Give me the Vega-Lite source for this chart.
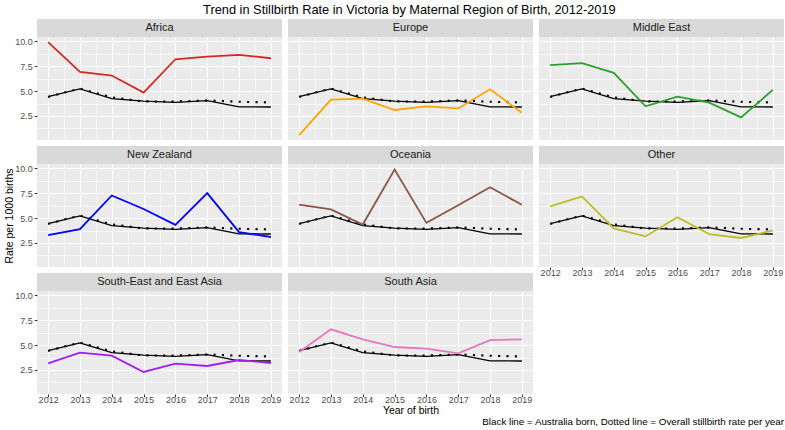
{
  "$schema": "https://vega.github.io/schema/vega-lite/v6.json",
  "background": "white",
  "padding": {"left": 4, "top": 4, "right": 2, "bottom": 1},
  "title": {
    "text": "Black line = Australia born, Dotted line = Overall stillbirth rate per year",
    "orient": "bottom",
    "anchor": "end",
    "frame": "bounds",
    "font": "Liberation Sans",
    "fontSize": 9.8,
    "fontWeight": "normal",
    "color": "black",
    "offset": 1.5
  },
  "datasets": {
    "national": [
      {"year": 2012, "series": "Australia born", "rate": 4.44},
      {"year": 2013, "series": "Australia born", "rate": 5.22},
      {"year": 2014, "series": "Australia born", "rate": 4.25},
      {"year": 2015, "series": "Australia born", "rate": 4.0},
      {"year": 2016, "series": "Australia born", "rate": 3.87},
      {"year": 2017, "series": "Australia born", "rate": 4.04},
      {"year": 2018, "series": "Australia born", "rate": 3.42},
      {"year": 2019, "series": "Australia born", "rate": 3.4},
      {"year": 2012, "series": "Overall", "rate": 4.42},
      {"year": 2013, "series": "Overall", "rate": 5.27},
      {"year": 2014, "series": "Overall", "rate": 4.36},
      {"year": 2015, "series": "Overall", "rate": 3.97},
      {"year": 2016, "series": "Overall", "rate": 3.95},
      {"year": 2017, "series": "Overall", "rate": 4.07},
      {"year": 2018, "series": "Overall", "rate": 3.93},
      {"year": 2019, "series": "Overall", "rate": 3.86}
    ],
    "regional": [
      {"region": "Africa", "year": 2012, "rate": 9.93},
      {"region": "Africa", "year": 2013, "rate": 6.94},
      {"region": "Africa", "year": 2014, "rate": 6.57},
      {"region": "Africa", "year": 2015, "rate": 4.85},
      {"region": "Africa", "year": 2016, "rate": 8.21},
      {"region": "Africa", "year": 2017, "rate": 8.48},
      {"region": "Africa", "year": 2018, "rate": 8.65},
      {"region": "Africa", "year": 2019, "rate": 8.31},
      {"region": "Europe", "year": 2012, "rate": 0.57},
      {"region": "Europe", "year": 2013, "rate": 4.14},
      {"region": "Europe", "year": 2014, "rate": 4.24},
      {"region": "Europe", "year": 2015, "rate": 3.1},
      {"region": "Europe", "year": 2016, "rate": 3.47},
      {"region": "Europe", "year": 2017, "rate": 3.26},
      {"region": "Europe", "year": 2018, "rate": 5.18},
      {"region": "Europe", "year": 2019, "rate": 2.83},
      {"region": "Middle East", "year": 2012, "rate": 7.61},
      {"region": "Middle East", "year": 2013, "rate": 7.81},
      {"region": "Middle East", "year": 2014, "rate": 6.84},
      {"region": "Middle East", "year": 2015, "rate": 3.47},
      {"region": "Middle East", "year": 2016, "rate": 4.44},
      {"region": "Middle East", "year": 2017, "rate": 3.84},
      {"region": "Middle East", "year": 2018, "rate": 2.36},
      {"region": "Middle East", "year": 2019, "rate": 5.12},
      {"region": "New Zealand", "year": 2012, "rate": 3.3},
      {"region": "New Zealand", "year": 2013, "rate": 3.89},
      {"region": "New Zealand", "year": 2014, "rate": 7.28},
      {"region": "New Zealand", "year": 2015, "rate": 5.92},
      {"region": "New Zealand", "year": 2016, "rate": 4.32},
      {"region": "New Zealand", "year": 2017, "rate": 7.51},
      {"region": "New Zealand", "year": 2018, "rate": 3.59},
      {"region": "New Zealand", "year": 2019, "rate": 3.1},
      {"region": "Oceania", "year": 2012, "rate": 6.35},
      {"region": "Oceania", "year": 2013, "rate": 5.88},
      {"region": "Oceania", "year": 2014, "rate": 4.36},
      {"region": "Oceania", "year": 2015, "rate": 9.9},
      {"region": "Oceania", "year": 2016, "rate": 4.52},
      {"region": "Oceania", "year": 2017, "rate": 6.3},
      {"region": "Oceania", "year": 2018, "rate": 8.11},
      {"region": "Oceania", "year": 2019, "rate": 6.35},
      {"region": "Other", "year": 2012, "rate": 6.18},
      {"region": "Other", "year": 2013, "rate": 7.18},
      {"region": "Other", "year": 2014, "rate": 3.96},
      {"region": "Other", "year": 2015, "rate": 3.16},
      {"region": "Other", "year": 2016, "rate": 5.09},
      {"region": "Other", "year": 2017, "rate": 3.4},
      {"region": "Other", "year": 2018, "rate": 3.0},
      {"region": "Other", "year": 2019, "rate": 3.76},
      {"region": "South-East and East Asia", "year": 2012, "rate": 3.17},
      {"region": "South-East and East Asia", "year": 2013, "rate": 4.24},
      {"region": "South-East and East Asia", "year": 2014, "rate": 3.94},
      {"region": "South-East and East Asia", "year": 2015, "rate": 2.3},
      {"region": "South-East and East Asia", "year": 2016, "rate": 3.14},
      {"region": "South-East and East Asia", "year": 2017, "rate": 2.9},
      {"region": "South-East and East Asia", "year": 2018, "rate": 3.5},
      {"region": "South-East and East Asia", "year": 2019, "rate": 3.2},
      {"region": "South Asia", "year": 2012, "rate": 4.31},
      {"region": "South Asia", "year": 2013, "rate": 6.59},
      {"region": "South Asia", "year": 2014, "rate": 5.58},
      {"region": "South Asia", "year": 2015, "rate": 4.81},
      {"region": "South Asia", "year": 2016, "rate": 4.64},
      {"region": "South Asia", "year": 2017, "rate": 4.17},
      {"region": "South Asia", "year": 2018, "rate": 5.51},
      {"region": "South Asia", "year": 2019, "rate": 5.58}
    ]
  },
  "vconcat": [
    {
      "title": {
        "text": "Trend in Stillbirth Rate in Victoria by Maternal Region of Birth, 2012-2019",
        "anchor": "middle",
        "frame": "bounds",
        "dx": 15,
        "font": "Liberation Sans",
        "fontSize": 12.8,
        "fontWeight": "normal",
        "color": "black",
        "offset": 2
      },
      "spacing": 6,
      "hconcat": [
        {
          "spacing": 6,
          "vconcat": [
            {
              "spacing": 0,
              "vconcat": [
                {"width": 245, "height": 18, "view": {"fill": "#d9d9d9", "stroke": null},
                 "data": {"name": "regional"},
                 "transform": [{"filter": "datum.region === 'Africa' && datum.year === 2012"}],
                 "mark": {"type": "text", "font": "Liberation Sans", "fontSize": 11, "color": "#1a1a1a", "baseline": "middle", "align": "center"},
                 "encoding": {"text": {"field": "region"}}},
                {"width": 245, "height": 103,
                 "encoding": {
                   "x": {"field": "year", "type": "quantitative", "scale": {"domain": [2011.65, 2019.35], "nice": false, "zero": false},
                         "axis": {"values": [2012, 2012.5, 2013, 2013.5, 2014, 2014.5, 2015, 2015.5, 2016, 2016.5, 2017, 2017.5, 2018, 2018.5, 2019], "labels": false, "ticks": false, "title": null,
                                  "gridWidth": {"condition": {"test": "datum.value % 1 !== 0", "value": 0.55}, "value": 1.1}}},
                   "y": {"field": "rate", "type": "quantitative", "scale": {"domain": [0.08, 10.45], "nice": false, "zero": false},
                         "axis": {"values": [1.25, 2.5, 3.75, 5, 6.25, 7.5, 8.75, 10], "format": ".1f", "title": null,
                                  "labelExpr": "datum.value % 2.5 === 0 ? datum.label : ''",
                                  "tickOpacity": {"condition": {"test": "datum.value % 2.5 !== 0", "value": 0}, "value": 1},
                                  "gridWidth": {"condition": {"test": "datum.value % 2.5 !== 0", "value": 0.55}, "value": 1.1}}}
                 },
                 "layer": [
                   {"data": {"name": "national"}, "transform": [{"filter": "datum.series === 'Australia born'"}], "mark": {"type": "line", "color": "black", "strokeWidth": 1.3}},
                   {"data": {"name": "national"}, "transform": [{"filter": "datum.series === 'Overall'"}], "mark": {"type": "line", "color": "black", "strokeWidth": 2.1, "strokeDash": [2.1, 6.3]}},
                   {"data": {"name": "regional"}, "transform": [{"filter": "datum.region === 'Africa'"}], "mark": {"type": "line", "color": "#d62728", "strokeWidth": 1.8}}
                 ]}
              ]
            },
            {
              "spacing": 0,
              "vconcat": [
                {"width": 245, "height": 18, "view": {"fill": "#d9d9d9", "stroke": null},
                 "data": {"name": "regional"},
                 "transform": [{"filter": "datum.region === 'New Zealand' && datum.year === 2012"}],
                 "mark": {"type": "text", "font": "Liberation Sans", "fontSize": 11, "color": "#1a1a1a", "baseline": "middle", "align": "center"},
                 "encoding": {"text": {"field": "region"}}},
                {"width": 245, "height": 103,
                 "encoding": {
                   "x": {"field": "year", "type": "quantitative", "scale": {"domain": [2011.65, 2019.35], "nice": false, "zero": false},
                         "axis": {"values": [2012, 2012.5, 2013, 2013.5, 2014, 2014.5, 2015, 2015.5, 2016, 2016.5, 2017, 2017.5, 2018, 2018.5, 2019], "labels": false, "ticks": false, "title": null,
                                  "gridWidth": {"condition": {"test": "datum.value % 1 !== 0", "value": 0.55}, "value": 1.1}}},
                   "y": {"field": "rate", "type": "quantitative", "scale": {"domain": [0.08, 10.45], "nice": false, "zero": false},
                         "axis": {"values": [1.25, 2.5, 3.75, 5, 6.25, 7.5, 8.75, 10], "format": ".1f", "title": "Rate per 1000 births",
                                  "labelExpr": "datum.value % 2.5 === 0 ? datum.label : ''",
                                  "tickOpacity": {"condition": {"test": "datum.value % 2.5 !== 0", "value": 0}, "value": 1},
                                  "gridWidth": {"condition": {"test": "datum.value % 2.5 !== 0", "value": 0.55}, "value": 1.1}}}
                 },
                 "layer": [
                   {"data": {"name": "national"}, "transform": [{"filter": "datum.series === 'Australia born'"}], "mark": {"type": "line", "color": "black", "strokeWidth": 1.3}},
                   {"data": {"name": "national"}, "transform": [{"filter": "datum.series === 'Overall'"}], "mark": {"type": "line", "color": "black", "strokeWidth": 2.1, "strokeDash": [2.1, 6.3]}},
                   {"data": {"name": "regional"}, "transform": [{"filter": "datum.region === 'New Zealand'"}], "mark": {"type": "line", "color": "#0000ff", "strokeWidth": 1.8}}
                 ]}
              ]
            },
            {
              "spacing": 0,
              "vconcat": [
                {"width": 245, "height": 18, "view": {"fill": "#d9d9d9", "stroke": null},
                 "data": {"name": "regional"},
                 "transform": [{"filter": "datum.region === 'South-East and East Asia' && datum.year === 2012"}],
                 "mark": {"type": "text", "font": "Liberation Sans", "fontSize": 11, "color": "#1a1a1a", "baseline": "middle", "align": "center"},
                 "encoding": {"text": {"field": "region"}}},
                {"width": 245, "height": 103,
                 "encoding": {
                   "x": {"field": "year", "type": "quantitative", "scale": {"domain": [2011.65, 2019.35], "nice": false, "zero": false},
                         "axis": {"values": [2012, 2012.5, 2013, 2013.5, 2014, 2014.5, 2015, 2015.5, 2016, 2016.5, 2017, 2017.5, 2018, 2018.5, 2019], "format": "d", "title": null,
                                  "labelExpr": "datum.value % 1 === 0 ? datum.label : ''",
                                  "tickOpacity": {"condition": {"test": "datum.value % 1 !== 0", "value": 0}, "value": 1},
                                  "gridWidth": {"condition": {"test": "datum.value % 1 !== 0", "value": 0.55}, "value": 1.1}}},
                   "y": {"field": "rate", "type": "quantitative", "scale": {"domain": [0.08, 10.45], "nice": false, "zero": false},
                         "axis": {"values": [1.25, 2.5, 3.75, 5, 6.25, 7.5, 8.75, 10], "format": ".1f", "title": null,
                                  "labelExpr": "datum.value % 2.5 === 0 ? datum.label : ''",
                                  "tickOpacity": {"condition": {"test": "datum.value % 2.5 !== 0", "value": 0}, "value": 1},
                                  "gridWidth": {"condition": {"test": "datum.value % 2.5 !== 0", "value": 0.55}, "value": 1.1}}}
                 },
                 "layer": [
                   {"data": {"name": "national"}, "transform": [{"filter": "datum.series === 'Australia born'"}], "mark": {"type": "line", "color": "black", "strokeWidth": 1.3}},
                   {"data": {"name": "national"}, "transform": [{"filter": "datum.series === 'Overall'"}], "mark": {"type": "line", "color": "black", "strokeWidth": 2.1, "strokeDash": [2.1, 6.3]}},
                   {"data": {"name": "regional"}, "transform": [{"filter": "datum.region === 'South-East and East Asia'"}], "mark": {"type": "line", "color": "#a020f0", "strokeWidth": 1.8}}
                 ]}
              ]
            }
          ]
        },
        {
          "spacing": 6,
          "vconcat": [
            {
              "spacing": 0,
              "vconcat": [
                {"width": 245, "height": 18, "view": {"fill": "#d9d9d9", "stroke": null},
                 "data": {"name": "regional"},
                 "transform": [{"filter": "datum.region === 'Europe' && datum.year === 2012"}],
                 "mark": {"type": "text", "font": "Liberation Sans", "fontSize": 11, "color": "#1a1a1a", "baseline": "middle", "align": "center"},
                 "encoding": {"text": {"field": "region"}}},
                {"width": 245, "height": 103,
                 "encoding": {
                   "x": {"field": "year", "type": "quantitative", "scale": {"domain": [2011.65, 2019.35], "nice": false, "zero": false},
                         "axis": {"values": [2012, 2012.5, 2013, 2013.5, 2014, 2014.5, 2015, 2015.5, 2016, 2016.5, 2017, 2017.5, 2018, 2018.5, 2019], "labels": false, "ticks": false, "title": null,
                                  "gridWidth": {"condition": {"test": "datum.value % 1 !== 0", "value": 0.55}, "value": 1.1}}},
                   "y": {"field": "rate", "type": "quantitative", "scale": {"domain": [0.08, 10.45], "nice": false, "zero": false},
                         "axis": {"values": [1.25, 2.5, 3.75, 5, 6.25, 7.5, 8.75, 10], "labels": false, "ticks": false, "title": null,
                                  "gridWidth": {"condition": {"test": "datum.value % 2.5 !== 0", "value": 0.55}, "value": 1.1}}}
                 },
                 "layer": [
                   {"data": {"name": "national"}, "transform": [{"filter": "datum.series === 'Australia born'"}], "mark": {"type": "line", "color": "black", "strokeWidth": 1.3}},
                   {"data": {"name": "national"}, "transform": [{"filter": "datum.series === 'Overall'"}], "mark": {"type": "line", "color": "black", "strokeWidth": 2.1, "strokeDash": [2.1, 6.3]}},
                   {"data": {"name": "regional"}, "transform": [{"filter": "datum.region === 'Europe'"}], "mark": {"type": "line", "color": "#ffa500", "strokeWidth": 1.8}}
                 ]}
              ]
            },
            {
              "spacing": 0,
              "vconcat": [
                {"width": 245, "height": 18, "view": {"fill": "#d9d9d9", "stroke": null},
                 "data": {"name": "regional"},
                 "transform": [{"filter": "datum.region === 'Oceania' && datum.year === 2012"}],
                 "mark": {"type": "text", "font": "Liberation Sans", "fontSize": 11, "color": "#1a1a1a", "baseline": "middle", "align": "center"},
                 "encoding": {"text": {"field": "region"}}},
                {"width": 245, "height": 103,
                 "encoding": {
                   "x": {"field": "year", "type": "quantitative", "scale": {"domain": [2011.65, 2019.35], "nice": false, "zero": false},
                         "axis": {"values": [2012, 2012.5, 2013, 2013.5, 2014, 2014.5, 2015, 2015.5, 2016, 2016.5, 2017, 2017.5, 2018, 2018.5, 2019], "labels": false, "ticks": false, "title": null,
                                  "gridWidth": {"condition": {"test": "datum.value % 1 !== 0", "value": 0.55}, "value": 1.1}}},
                   "y": {"field": "rate", "type": "quantitative", "scale": {"domain": [0.08, 10.45], "nice": false, "zero": false},
                         "axis": {"values": [1.25, 2.5, 3.75, 5, 6.25, 7.5, 8.75, 10], "labels": false, "ticks": false, "title": null,
                                  "gridWidth": {"condition": {"test": "datum.value % 2.5 !== 0", "value": 0.55}, "value": 1.1}}}
                 },
                 "layer": [
                   {"data": {"name": "national"}, "transform": [{"filter": "datum.series === 'Australia born'"}], "mark": {"type": "line", "color": "black", "strokeWidth": 1.3}},
                   {"data": {"name": "national"}, "transform": [{"filter": "datum.series === 'Overall'"}], "mark": {"type": "line", "color": "black", "strokeWidth": 2.1, "strokeDash": [2.1, 6.3]}},
                   {"data": {"name": "regional"}, "transform": [{"filter": "datum.region === 'Oceania'"}], "mark": {"type": "line", "color": "#8c564b", "strokeWidth": 1.8}}
                 ]}
              ]
            },
            {
              "spacing": 0,
              "vconcat": [
                {"width": 245, "height": 18, "view": {"fill": "#d9d9d9", "stroke": null},
                 "data": {"name": "regional"},
                 "transform": [{"filter": "datum.region === 'South Asia' && datum.year === 2012"}],
                 "mark": {"type": "text", "font": "Liberation Sans", "fontSize": 11, "color": "#1a1a1a", "baseline": "middle", "align": "center"},
                 "encoding": {"text": {"field": "region"}}},
                {"width": 245, "height": 103,
                 "encoding": {
                   "x": {"field": "year", "type": "quantitative", "scale": {"domain": [2011.65, 2019.35], "nice": false, "zero": false},
                         "axis": {"values": [2012, 2012.5, 2013, 2013.5, 2014, 2014.5, 2015, 2015.5, 2016, 2016.5, 2017, 2017.5, 2018, 2018.5, 2019], "format": "d", "title": "Year of birth",
                                  "labelExpr": "datum.value % 1 === 0 ? datum.label : ''",
                                  "tickOpacity": {"condition": {"test": "datum.value % 1 !== 0", "value": 0}, "value": 1},
                                  "gridWidth": {"condition": {"test": "datum.value % 1 !== 0", "value": 0.55}, "value": 1.1}}},
                   "y": {"field": "rate", "type": "quantitative", "scale": {"domain": [0.08, 10.45], "nice": false, "zero": false},
                         "axis": {"values": [1.25, 2.5, 3.75, 5, 6.25, 7.5, 8.75, 10], "labels": false, "ticks": false, "title": null,
                                  "gridWidth": {"condition": {"test": "datum.value % 2.5 !== 0", "value": 0.55}, "value": 1.1}}}
                 },
                 "layer": [
                   {"data": {"name": "national"}, "transform": [{"filter": "datum.series === 'Australia born'"}], "mark": {"type": "line", "color": "black", "strokeWidth": 1.3}},
                   {"data": {"name": "national"}, "transform": [{"filter": "datum.series === 'Overall'"}], "mark": {"type": "line", "color": "black", "strokeWidth": 2.1, "strokeDash": [2.1, 6.3]}},
                   {"data": {"name": "regional"}, "transform": [{"filter": "datum.region === 'South Asia'"}], "mark": {"type": "line", "color": "#e377c2", "strokeWidth": 1.8}}
                 ]}
              ]
            }
          ]
        },
        {
          "spacing": 6,
          "vconcat": [
            {
              "spacing": 0,
              "vconcat": [
                {"width": 245, "height": 18, "view": {"fill": "#d9d9d9", "stroke": null},
                 "data": {"name": "regional"},
                 "transform": [{"filter": "datum.region === 'Middle East' && datum.year === 2012"}],
                 "mark": {"type": "text", "font": "Liberation Sans", "fontSize": 11, "color": "#1a1a1a", "baseline": "middle", "align": "center"},
                 "encoding": {"text": {"field": "region"}}},
                {"width": 245, "height": 103,
                 "encoding": {
                   "x": {"field": "year", "type": "quantitative", "scale": {"domain": [2011.65, 2019.35], "nice": false, "zero": false},
                         "axis": {"values": [2012, 2012.5, 2013, 2013.5, 2014, 2014.5, 2015, 2015.5, 2016, 2016.5, 2017, 2017.5, 2018, 2018.5, 2019], "labels": false, "ticks": false, "title": null,
                                  "gridWidth": {"condition": {"test": "datum.value % 1 !== 0", "value": 0.55}, "value": 1.1}}},
                   "y": {"field": "rate", "type": "quantitative", "scale": {"domain": [0.08, 10.45], "nice": false, "zero": false},
                         "axis": {"values": [1.25, 2.5, 3.75, 5, 6.25, 7.5, 8.75, 10], "labels": false, "ticks": false, "title": null,
                                  "gridWidth": {"condition": {"test": "datum.value % 2.5 !== 0", "value": 0.55}, "value": 1.1}}}
                 },
                 "layer": [
                   {"data": {"name": "national"}, "transform": [{"filter": "datum.series === 'Australia born'"}], "mark": {"type": "line", "color": "black", "strokeWidth": 1.3}},
                   {"data": {"name": "national"}, "transform": [{"filter": "datum.series === 'Overall'"}], "mark": {"type": "line", "color": "black", "strokeWidth": 2.1, "strokeDash": [2.1, 6.3]}},
                   {"data": {"name": "regional"}, "transform": [{"filter": "datum.region === 'Middle East'"}], "mark": {"type": "line", "color": "#2ca02c", "strokeWidth": 1.8}}
                 ]}
              ]
            },
            {
              "spacing": 0,
              "vconcat": [
                {"width": 245, "height": 18, "view": {"fill": "#d9d9d9", "stroke": null},
                 "data": {"name": "regional"},
                 "transform": [{"filter": "datum.region === 'Other' && datum.year === 2012"}],
                 "mark": {"type": "text", "font": "Liberation Sans", "fontSize": 11, "color": "#1a1a1a", "baseline": "middle", "align": "center"},
                 "encoding": {"text": {"field": "region"}}},
                {"width": 245, "height": 103,
                 "encoding": {
                   "x": {"field": "year", "type": "quantitative", "scale": {"domain": [2011.65, 2019.35], "nice": false, "zero": false},
                         "axis": {"values": [2012, 2012.5, 2013, 2013.5, 2014, 2014.5, 2015, 2015.5, 2016, 2016.5, 2017, 2017.5, 2018, 2018.5, 2019], "format": "d", "title": null,
                                  "labelExpr": "datum.value % 1 === 0 ? datum.label : ''",
                                  "tickOpacity": {"condition": {"test": "datum.value % 1 !== 0", "value": 0}, "value": 1},
                                  "gridWidth": {"condition": {"test": "datum.value % 1 !== 0", "value": 0.55}, "value": 1.1}}},
                   "y": {"field": "rate", "type": "quantitative", "scale": {"domain": [0.08, 10.45], "nice": false, "zero": false},
                         "axis": {"values": [1.25, 2.5, 3.75, 5, 6.25, 7.5, 8.75, 10], "labels": false, "ticks": false, "title": null,
                                  "gridWidth": {"condition": {"test": "datum.value % 2.5 !== 0", "value": 0.55}, "value": 1.1}}}
                 },
                 "layer": [
                   {"data": {"name": "national"}, "transform": [{"filter": "datum.series === 'Australia born'"}], "mark": {"type": "line", "color": "black", "strokeWidth": 1.3}},
                   {"data": {"name": "national"}, "transform": [{"filter": "datum.series === 'Overall'"}], "mark": {"type": "line", "color": "black", "strokeWidth": 2.1, "strokeDash": [2.1, 6.3]}},
                   {"data": {"name": "regional"}, "transform": [{"filter": "datum.region === 'Other'"}], "mark": {"type": "line", "color": "#bcbd22", "strokeWidth": 1.8}}
                 ]}
              ]
            }
          ]
        }
      ]
    }
  ],
  "config": {
    "font": "Liberation Sans",
    "view": {"fill": "#ebebeb", "stroke": null},
    "axis": {
      "domain": false,
      "gridColor": "white",
      "gridOpacity": 1,
      "tickColor": "#333333",
      "tickSize": 2.75,
      "tickWidth": 1,
      "labelColor": "#4d4d4d",
      "labelFont": "Liberation Sans",
      "labelFontSize": 9,
      "labelPadding": 2,
      "labelOverlap": false,
      "labelFlush": false,
      "titleFont": "Liberation Sans",
      "titleFontSize": 10.5,
      "titleFontWeight": "normal",
      "titleColor": "black",
      "titlePadding": 0
    },
    "axisX": {"labelPadding": -1, "titlePadding": 0.5}
  }
}
